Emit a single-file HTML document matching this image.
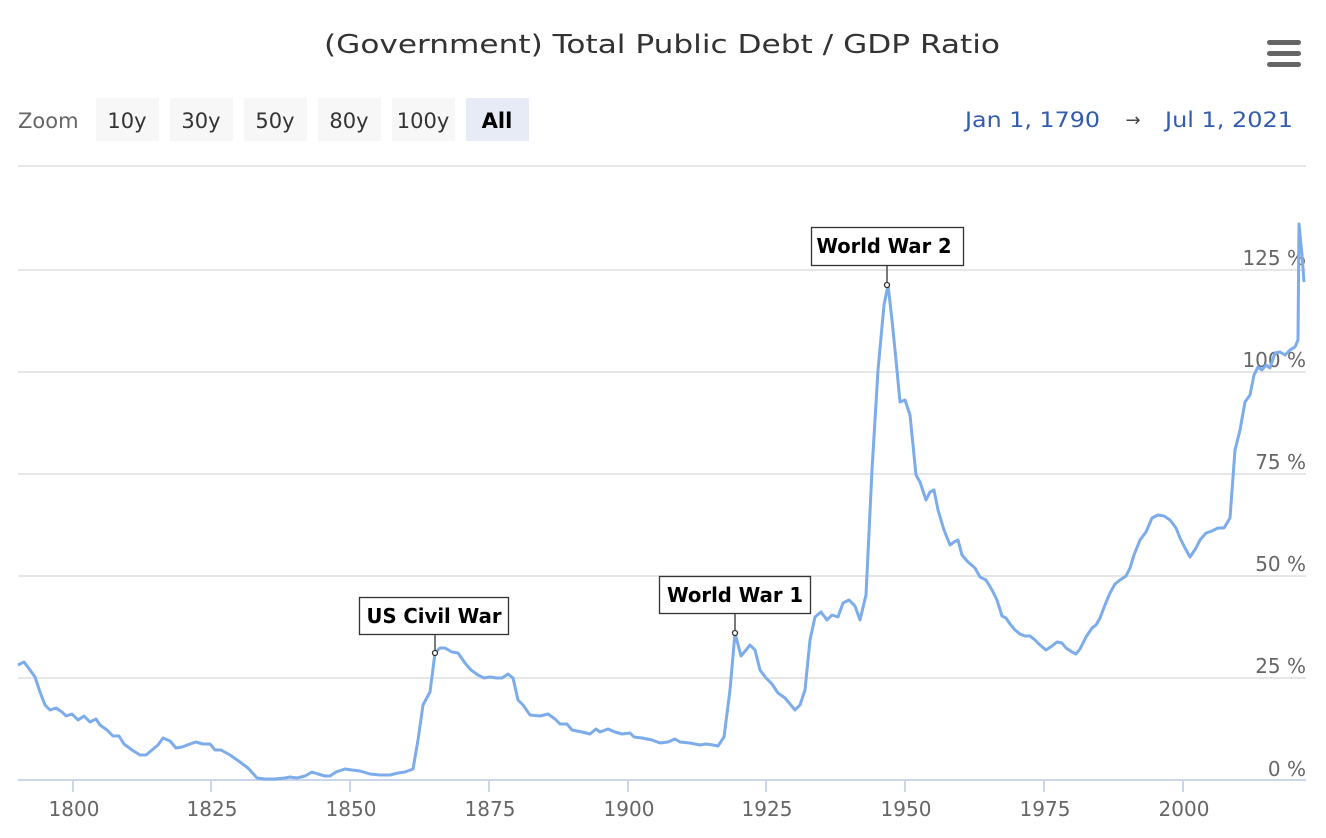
<!DOCTYPE html>
<html><head><meta charset="utf-8"><style>
body{margin:0;background:#fff;width:1326px;height:834px;overflow:hidden;font-family:"DejaVu Sans",sans-serif}
</style></head><body>
<svg width="1326" height="834" xmlns="http://www.w3.org/2000/svg" font-family="DejaVu Sans, Liberation Sans, sans-serif">
<text x="662" y="53" text-anchor="middle" font-size="26" fill="#333" textLength="676" lengthAdjust="spacingAndGlyphs">(Government) Total Public Debt / GDP Ratio</text>
<g fill="#666"><rect x="1267" y="40" width="34" height="5" rx="2.5"/><rect x="1267" y="51" width="34" height="5" rx="2.5"/><rect x="1267" y="62" width="34" height="5" rx="2.5"/></g>
<text x="18" y="128" font-size="21" fill="#666">Zoom</text>
<g font-size="21" text-anchor="middle" fill="#333">
<rect x="96" y="98" width="63" height="43" fill="#f7f7f7"/><text x="127" y="128">10y</text>
<rect x="170" y="98" width="63" height="43" fill="#f7f7f7"/><text x="201" y="128">30y</text>
<rect x="244" y="98" width="63" height="43" fill="#f7f7f7"/><text x="275" y="128">50y</text>
<rect x="318" y="98" width="63" height="43" fill="#f7f7f7"/><text x="349" y="128">80y</text>
<rect x="392" y="98" width="63" height="43" fill="#f7f7f7"/><text x="423" y="128">100y</text>
<rect x="466" y="98" width="63" height="43" fill="#e6ebf5"/><text x="497" y="128" font-weight="bold" fill="#000">All</text>
</g>
<text x="965" y="127" font-size="21" fill="#335cad" textLength="135" lengthAdjust="spacingAndGlyphs">Jan 1, 1790</text>
<text x="1133" y="126" font-size="18" fill="#444" text-anchor="middle">→</text>
<text x="1165" y="127" font-size="21" fill="#335cad" textLength="128" lengthAdjust="spacingAndGlyphs">Jul 1, 2021</text>
<g stroke="#e6e6e6" stroke-width="2">
<line x1="18" x2="1306" y1="166" y2="166"/><line x1="18" x2="1306" y1="270" y2="270"/><line x1="18" x2="1306" y1="372" y2="372"/><line x1="18" x2="1306" y1="474" y2="474"/><line x1="18" x2="1306" y1="576" y2="576"/><line x1="18" x2="1306" y1="678" y2="678"/>
</g>
<line x1="18" x2="1306" y1="780" y2="780" stroke="#ccd6eb" stroke-width="2"/>
<g stroke="#ccd6eb" stroke-width="2">
<line x1="73" x2="73" y1="780" y2="792"/><line x1="211" x2="211" y1="780" y2="792"/><line x1="350" x2="350" y1="780" y2="792"/><line x1="489" x2="489" y1="780" y2="792"/><line x1="628" x2="628" y1="780" y2="792"/><line x1="766" x2="766" y1="780" y2="792"/><line x1="905" x2="905" y1="780" y2="792"/><line x1="1044" x2="1044" y1="780" y2="792"/><line x1="1183" x2="1183" y1="780" y2="792"/>
</g>
<g font-size="20" fill="#666" text-anchor="middle">
<text x="74" y="816">1800</text><text x="212" y="816">1825</text><text x="351" y="816">1850</text><text x="490" y="816">1875</text><text x="629" y="816">1900</text><text x="767" y="816">1925</text><text x="906" y="816">1950</text><text x="1045" y="816">1975</text><text x="1184" y="816">2000</text>
</g>
<g font-size="20" fill="#666" text-anchor="end">
<text x="1306" y="265">125 %</text><text x="1306" y="367">100 %</text><text x="1306" y="469">75 %</text><text x="1306" y="571">50 %</text><text x="1306" y="673">25 %</text><text x="1306" y="776">0 %</text>
</g>
<polyline fill="none" stroke="#7cacea" stroke-width="3" stroke-linejoin="round" points="18,665 24,662 30,670 35,677 40,692 45,705 50,710 56,708 62,712 66,716 72,714 78,720 84,716 90,722 96,719 100,725 107,730 113,736 119,736 124,744 132,750 140,755 146,755 152,750 158,745 163,738 170,741 176,748 182,747 190,744 196,742 203,744 210,744 215,750 221,750 230,755 240,762 248,768 257,778 265,779 275,779 285,778 290,777 297,778 305,776 312,772 318,774 325,776 330,776 336,772 345,769 352,770 360,771 370,774 380,775 390,775 398,773 405,772 413,769 418,740 423,705 430,692 435,653 440,648 445,648 452,652 458,653 465,663 471,670 478,675 484,678 490,677 497,678 502,678 508,674 513,678 518,700 523,705 530,715 540,716 548,714 555,719 560,724 567,724 572,730 582,732 590,734 596,729 600,732 608,729 615,732 622,734 630,733 634,737 642,738 652,740 660,743 668,742 675,739 680,742 690,743 700,745 706,744 713,745 718,746 724,737 730,690 735,633 741,656 746,650 750,645 755,650 760,670 766,678 772,684 778,693 785,698 790,704 795,710 800,705 805,690 810,640 815,617 821,612 827,620 832,615 838,617 843,603 849,600 855,606 860,620 866,595 872,470 878,370 884,305 888,285 892,320 896,360 900,402 905,400 910,415 916,475 920,482 926,500 930,492 934,490 938,510 944,530 950,545 954,542 958,540 962,555 968,562 975,568 980,577 986,580 992,590 997,600 1002,616 1006,618 1010,624 1015,630 1020,634 1025,636 1030,636 1035,640 1040,645 1046,650 1052,646 1057,642 1062,643 1066,648 1072,652 1076,654 1080,649 1086,637 1092,628 1096,625 1100,618 1105,605 1110,593 1115,584 1120,580 1126,576 1130,568 1134,555 1140,540 1146,532 1152,518 1158,515 1164,516 1170,520 1176,528 1180,538 1185,548 1190,557 1196,548 1200,540 1206,533 1212,531 1218,528 1224,528 1230,518 1235,450 1240,430 1245,402 1250,395 1254,375 1258,367 1262,370 1266,365 1270,368 1275,353 1280,352 1285,355 1290,350 1295,347 1298,340 1299,224 1302,255 1304,282"/>
<g stroke="#333" stroke-width="1.3" fill="#fff">
<line x1="435" y1="634" x2="435" y2="653"/><rect x="359.5" y="597.5" width="149" height="37"/><circle cx="435" cy="653" r="2.5"/>
<line x1="735" y1="614" x2="735" y2="633"/><rect x="659.5" y="576.5" width="151" height="37"/><circle cx="735" cy="633" r="2.5"/>
<line x1="887" y1="266" x2="887" y2="285"/><rect x="811.5" y="227.5" width="152" height="38"/><circle cx="887" cy="285" r="2.5"/>
</g>
<g font-size="20" font-weight="bold" fill="#000" text-anchor="middle">
<text x="434" y="623" textLength="135" lengthAdjust="spacingAndGlyphs">US Civil War</text><text x="735" y="602" textLength="136" lengthAdjust="spacingAndGlyphs">World War 1</text><text x="884" y="253" textLength="135" lengthAdjust="spacingAndGlyphs">World War 2</text>
</g>
</svg>
</body></html>
